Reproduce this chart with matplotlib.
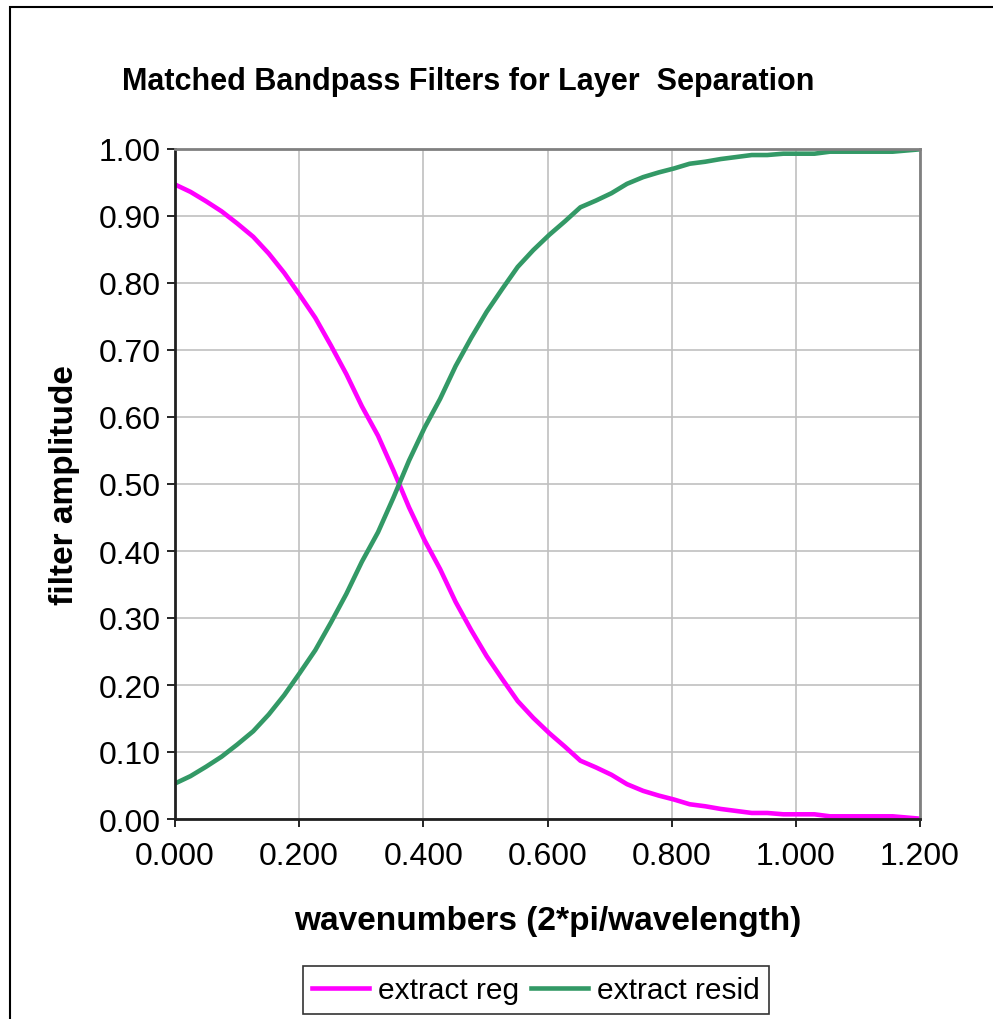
import matplotlib.pyplot as plt
from matplotlib.patches import Rectangle

plt.rcParams['font.family'] = ['Liberation Sans', 'DejaVu Sans']

# wavenumbers (2*pi/wavelength)
wavenumber = [0.000, 0.025, 0.050, 0.075, 0.100, 0.126, 0.151, 0.176, 0.201, 0.226,
              0.251, 0.276, 0.301, 0.327, 0.352, 0.377, 0.402, 0.427, 0.452, 0.477,
              0.502, 0.527, 0.552, 0.577, 0.603, 0.628, 0.653, 0.678, 0.703, 0.728,
              0.754, 0.779, 0.804, 0.829, 0.854, 0.879, 0.904, 0.929, 0.954, 0.980,
              1.005, 1.030, 1.055, 1.080, 1.105, 1.130, 1.156, 1.181, 1.206]

extract_reg = [0.947, 0.936, 0.922, 0.907, 0.889, 0.869, 0.844, 0.815, 0.782, 0.748,
               0.707, 0.664, 0.616, 0.572, 0.520, 0.465, 0.416, 0.373, 0.324, 0.282,
               0.243, 0.209, 0.176, 0.151, 0.128, 0.108, 0.087, 0.077, 0.066, 0.052,
               0.042, 0.035, 0.029, 0.022, 0.019, 0.015, 0.012, 0.009, 0.009, 0.007,
               0.007, 0.007, 0.004, 0.004, 0.004, 0.004, 0.004, 0.002, 0.000]

extract_resid = [0.053, 0.064, 0.078, 0.093, 0.111, 0.131, 0.156, 0.185, 0.218, 0.252,
                 0.293, 0.336, 0.384, 0.428, 0.480, 0.535, 0.584, 0.627, 0.676, 0.718,
                 0.757, 0.791, 0.824, 0.849, 0.872, 0.892, 0.913, 0.923, 0.934, 0.948,
                 0.958, 0.965, 0.971, 0.978, 0.981, 0.985, 0.988, 0.991, 0.991, 0.993,
                 0.993, 0.993, 0.996, 0.996, 0.996, 0.996, 0.996, 0.998, 1.000]

x_ticks = [0.0, 0.2, 0.4, 0.6, 0.8, 1.0, 1.2]
y_ticks = [0.0, 0.1, 0.2, 0.3, 0.4, 0.5, 0.6, 0.7, 0.8, 0.9, 1.0]

W, H = 993, 1020
fig = plt.figure(figsize=(W / 100, H / 100), dpi=100)

# chart area border (runs off the right/bottom of the picture)
fig.patches.append(Rectangle((10 / W, -0.1), 1.2, 1 - 8 / H + 0.1, transform=fig.transFigure,
                             fill=False, edgecolor='black', lw=1.5))

ax = fig.add_axes([175 / W, 1 - 820 / H, 745 / W, 670 / H])
ax.plot(wavenumber, extract_reg, color='#FF00FF', lw=3.3, label='extract reg')
ax.plot(wavenumber, extract_resid, color='#339966', lw=3.3, label='extract resid')

ax.set_xlim(0, 1.2)
ax.set_ylim(0, 1.0)
ax.set_xticks(x_ticks)
ax.set_yticks(y_ticks)
ax.set_xticklabels([f"{v:.3f}" for v in x_ticks])
ax.set_yticklabels([f"{v:.2f}" for v in y_ticks])
ax.tick_params(labelsize=23, length=6, width=1.2, color='black', direction='out')
ax.tick_params(axis='x', pad=10)
ax.tick_params(axis='y', pad=4)
ax.grid(True, color='#c0c0c0', lw=1.2)
ax.set_axisbelow(True)
for side in ['top', 'right']:
    ax.spines[side].set_color('#808080')
    ax.spines[side].set_linewidth(2)
for side in ['left', 'bottom']:
    ax.spines[side].set_color('#202020')
    ax.spines[side].set_linewidth(2)

ax.set_xlabel('wavenumbers (2*pi/wavelength)', fontsize=24, fontweight='bold', labelpad=24)
ax.set_ylabel('filter amplitude', fontsize=24, fontweight='bold', labelpad=14)
fig.text(468 / W, 1 - 82 / H, 'Matched Bandpass Filters for Layer  Separation',
         ha='center', va='center', fontsize=22, fontweight='bold')

leg = fig.legend(loc='center', bbox_to_anchor=(536 / W, 1 - 991 / H), ncol=2,
                 fontsize=21.5, frameon=True, fancybox=False, edgecolor='black',
                 handlelength=1.9, columnspacing=0.4, handletextpad=0.3,
                 borderpad=0.32)
leg.get_frame().set_linewidth(1.2)

fig.savefig('out.png', dpi=100)
